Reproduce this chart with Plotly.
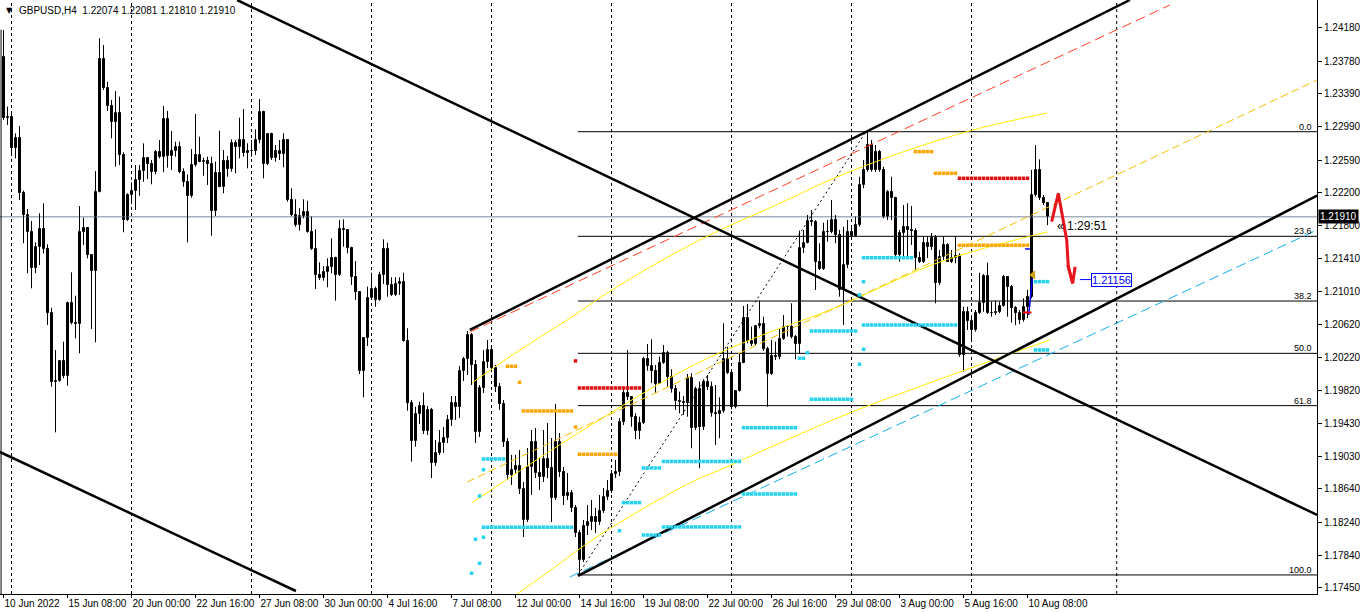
import plotly.graph_objects as go

# ---------------- data ----------------
symbol_title = "GBPUSD,H4  1.22074 1.22081 1.21810 1.21910"
first_open = 1.23835
last_open = 1.22074
current_price = 1.21910

close = [
 1.23094,1.23114,1.22741,1.22853,1.22192,1.21932,1.21724,1.21292,1.21544,1.21764,
 1.21523,1.20751,1.19929,1.19937,1.20178,1.20001,1.20871,1.20630,1.20625,1.21732,
 1.21772,1.21451,1.21263,1.22204,1.23803,1.23462,1.23246,1.23054,1.23154,1.22653,
 1.21872,1.22172,1.22224,1.22352,1.22461,1.22613,1.22541,1.22445,1.22686,1.22633,
 1.23082,1.22645,1.22705,1.22753,1.22453,1.22325,1.22164,1.22533,1.22653,1.22573,
 1.22585,1.22545,1.21984,1.22433,1.22272,1.22581,1.22485,1.22794,1.22746,1.22833,
 1.22674,1.22701,1.22698,1.22833,1.23166,1.22545,1.22906,1.22613,1.22705,1.22665,
 1.22833,1.22112,1.21932,1.21812,1.21920,1.21965,1.21732,1.21520,1.21211,1.21171,
 1.21251,1.21304,1.21412,1.21211,1.21760,1.21752,1.21532,1.21183,1.21003,1.20061,
 1.20450,1.20931,1.21043,1.20911,1.21211,1.21520,1.21091,1.20971,1.21103,1.21123,
 1.20422,1.19677,1.19220,1.19541,1.19637,1.19340,1.19589,1.18955,1.19076,1.19192,
 1.19249,1.19468,1.19677,1.19621,1.20061,1.20198,1.20490,1.20130,1.19328,1.19849,
 1.20169,1.20310,1.20093,1.19869,1.19661,1.19208,1.18811,1.18868,1.18916,1.18636,
 1.18267,1.18907,1.19208,1.18835,1.18787,1.18996,1.18888,1.18535,1.19208,1.18847,
 1.18559,1.18588,1.18407,1.18107,1.17786,1.18195,1.18246,1.18303,1.18246,1.18378,
 1.18547,1.18619,1.18820,1.18847,1.19448,1.19789,1.19745,1.19501,1.19340,1.19436,
 1.20198,1.20118,1.20061,1.19901,1.20150,1.20277,1.19989,1.19837,1.19697,1.19689,
 1.19677,1.19970,1.19369,1.19837,1.19388,1.19929,1.19862,1.19549,1.19545,1.19580,
 1.20198,1.20030,1.19621,1.19821,1.20157,1.20691,1.20422,1.20382,1.20598,1.20622,
 1.20318,1.20021,1.20238,1.20229,1.20438,1.20590,1.20583,1.20462,1.20382,1.21532,
 1.21599,1.21864,1.21852,1.21371,1.21280,1.21732,1.21728,1.21872,1.21692,1.21031,
 1.21331,1.21728,1.21680,1.21812,1.22293,1.22473,1.22773,1.22473,1.22693,1.22473,
 1.21905,1.22212,1.22133,1.21451,1.21720,1.21792,1.21752,1.21740,1.21412,1.21371,
 1.21592,1.21544,1.21652,1.21119,1.21431,1.21571,1.21371,1.21412,1.21439,1.20250,
 1.20770,1.20662,1.20550,1.20758,1.20878,1.21199,1.20758,1.20751,1.20770,1.20839,
 1.21183,1.21063,1.20811,1.20758,1.20670,1.20830,1.20950,1.22172,1.22473,1.22133,
 1.22073,1.21910]

high = [
 1.24155,1.23234,1.23170,1.22913,1.23002,1.22224,1.22004,1.21860,1.21604,1.21952,
 1.22072,1.21580,1.20818,1.20310,1.20190,1.20410,1.20891,1.21243,1.20962,1.22040,
 1.21900,1.21780,1.21463,1.22460,1.24056,1.23975,1.23534,1.23314,1.23422,1.23354,
 1.22686,1.22193,1.22325,1.22533,1.22533,1.22793,1.22621,1.22593,1.22713,1.22833,
 1.23242,1.23182,1.22942,1.22813,1.22813,1.22493,1.22421,1.22725,1.23146,1.22873,
 1.22621,1.22633,1.22633,1.22573,1.22945,1.22713,1.22641,1.22842,1.22833,1.23101,
 1.23206,1.22794,1.22833,1.22962,1.23326,1.23186,1.22914,1.22921,1.22773,1.22833,
 1.22914,1.22842,1.22253,1.22121,1.22013,1.22121,1.22104,1.21912,1.21760,1.21363,
 1.21319,1.21412,1.21652,1.21431,1.21872,1.21880,1.21760,1.21551,1.21379,1.21010,
 1.20457,1.21071,1.21239,1.21071,1.21251,1.21640,1.21599,1.21183,1.21183,1.21183,
 1.21239,1.20571,1.19709,1.19628,1.19689,1.19797,1.19637,1.19613,1.19228,1.19348,
 1.19384,1.19529,1.19757,1.19757,1.20118,1.20226,1.20538,1.20514,1.20190,1.19889,
 1.20310,1.20430,1.20370,1.20130,1.19913,1.19709,1.19252,1.19048,1.19048,1.19108,
 1.18723,1.19132,1.19348,1.19372,1.19012,1.19348,1.19432,1.19252,1.19661,1.19312,
 1.18904,1.18832,1.18627,1.18447,1.18146,1.18267,1.18447,1.18507,1.18411,1.18567,
 1.18651,1.18747,1.18868,1.18988,1.19492,1.19853,1.20310,1.19749,1.19549,1.19508,
 1.20229,1.20382,1.20438,1.20130,1.20229,1.20370,1.20301,1.20078,1.19889,1.19809,
 1.19757,1.20021,1.20030,1.19869,1.19929,1.19958,1.20009,1.19929,1.19889,1.19741,
 1.20631,1.20349,1.20030,1.19829,1.20270,1.20839,1.20863,1.20590,1.20610,1.20902,
 1.20710,1.20349,1.20430,1.20410,1.20571,1.20730,1.20610,1.20871,1.20490,1.21744,
 1.21752,1.21932,1.21992,1.21872,1.21592,1.21840,1.21872,1.22112,1.21932,1.21752,
 1.21792,1.21872,1.21776,1.21912,1.22392,1.22593,1.22933,1.22833,1.22773,1.22713,
 1.22513,1.22232,1.22392,1.22152,1.21752,1.22052,1.22073,1.22040,1.21772,1.21491,
 1.21672,1.21672,1.21716,1.21692,1.21511,1.21672,1.21592,1.21511,1.21672,1.21472,
 1.20830,1.20830,1.20710,1.20790,1.21239,1.21223,1.21359,1.20891,1.20902,1.20891,
 1.21211,1.21191,1.21091,1.20839,1.20790,1.20931,1.21031,1.22473,1.22773,1.22601,
 1.22172,1.22081]

low = [
 1.23074,1.23014,1.22653,1.22613,1.22112,1.21592,1.21232,1.21051,1.21232,1.21331,
 1.21471,1.20610,1.19869,1.19320,1.19929,1.19970,1.19881,1.20618,1.20450,1.20270,
 1.21571,1.21411,1.20562,1.20402,1.22204,1.23434,1.23182,1.22854,1.22513,1.22533,
 1.21724,1.21860,1.22073,1.21992,1.22164,1.22332,1.22364,1.22301,1.22421,1.22613,
 1.22445,1.22501,1.22473,1.22633,1.22433,1.22272,1.21604,1.22140,1.22513,1.22566,
 1.22404,1.22293,1.21683,1.21920,1.22265,1.22193,1.22392,1.22453,1.22433,1.22613,
 1.22633,1.22493,1.22633,1.22653,1.22794,1.22373,1.22533,1.22593,1.22573,1.22593,
 1.22505,1.22092,1.21920,1.21792,1.21744,1.21892,1.21720,1.21511,1.21043,1.21151,
 1.21143,1.21063,1.21232,1.20902,1.21199,1.21551,1.21471,1.21091,1.20911,1.20021,
 1.19741,1.20358,1.20931,1.20830,1.20902,1.21103,1.20950,1.20959,1.20959,1.20971,
 1.20410,1.19580,1.18967,1.19148,1.19420,1.19300,1.19288,1.18771,1.18916,1.19048,
 1.19072,1.19192,1.19396,1.19468,1.19492,1.19937,1.20009,1.19889,1.19192,1.19264,
 1.19793,1.20093,1.20045,1.19805,1.19589,1.19144,1.18747,1.18687,1.18820,1.18579,
 1.18062,1.18243,1.18567,1.18771,1.18627,1.18723,1.18771,1.18243,1.18507,1.18783,
 1.18447,1.18507,1.18363,1.18062,1.17606,1.17762,1.18086,1.18146,1.18110,1.18207,
 1.18351,1.18507,1.18591,1.18771,1.18795,1.19408,1.19709,1.19388,1.19237,1.19237,
 1.19420,1.20061,1.19910,1.19793,1.19901,1.20142,1.19869,1.19797,1.19589,1.19549,
 1.19529,1.19508,1.19128,1.19348,1.18888,1.19348,1.19829,1.19508,1.19168,1.19249,
 1.19556,1.20021,1.19597,1.19609,1.19809,1.20150,1.20390,1.20358,1.20370,1.20570,
 1.20301,1.19628,1.20009,1.20190,1.20198,1.20430,1.20470,1.20450,1.20198,1.20262,
 1.21475,1.21592,1.21800,1.21031,1.21271,1.21271,1.21611,1.21712,1.21592,1.20950,
 1.20610,1.21295,1.21632,1.21672,1.21792,1.22256,1.22453,1.22453,1.22449,1.22453,
 1.21892,1.21872,1.21872,1.21431,1.21371,1.21415,1.21431,1.21571,1.21271,1.21355,
 1.21355,1.21415,1.21511,1.20871,1.21091,1.21391,1.21367,1.21355,1.21352,1.20229,
 1.20049,1.20550,1.20430,1.20530,1.20742,1.20770,1.20742,1.20710,1.20730,1.20751,
 1.20830,1.20710,1.20638,1.20610,1.20622,1.20650,1.20694,1.20931,1.22152,1.22112,
 1.22052,1.21810]

date_labels = ["10 Jun 2022", "15 Jun 08:00", "20 Jun 00:00", "22 Jun 16:00", "27 Jun 08:00",
               "30 Jun 00:00", "4 Jul 16:00", "7 Jul 08:00", "12 Jul 00:00", "14 Jul 16:00",
               "19 Jul 08:00", "22 Jul 00:00", "26 Jul 16:00", "29 Jul 08:00", "3 Aug 00:00",
               "5 Aug 16:00", "10 Aug 08:00"]
date_label_bars = [0, 16, 32, 48, 64, 80, 96, 112, 128, 144, 160, 176, 192, 208, 224, 240, 256]

price_ticks = [1.24180, 1.23780, 1.23390, 1.22990, 1.22590, 1.22200, 1.21800, 1.21410, 1.21010,
               1.20620, 1.20220, 1.19820, 1.19430, 1.19030, 1.18640, 1.18240, 1.17840, 1.17450]

week_grid_bars = [2, 32, 62, 92, 122, 152, 182, 212, 242, 278.3]

# drawn objects (bar index, price)
upper_channel = [(116.6, 1.20550), (281.6, 1.24516)]
lower_channel = [(143.6, 1.17594), (328.4, 1.22166)]
red_dashed = [(116.6, 1.20526), (291.6, 1.24456)]
cyan_dashed = [(141.6, 1.17582), (328.4, 1.21752)]
down_line_main = [(58.4, 1.24516), (328.4, 1.18327)]
down_line_left = [(-0.9, 1.19084), (73.1, 1.17413)]

fib_high = 1.22933
fib_low = 1.17606
fib_start_bar = 143.6
fib_high_bar = 215.6
fib_levels = [0.0, 23.6, 38.2, 50.0, 61.8, 100.0]

yellow_upper_x = [117.1, 129.1, 140.9, 154.1, 174.1, 195.9, 206.6, 224.1, 242.4, 260.9]
yellow_upper_y = [1.19913, 1.20310, 1.20670, 1.21091, 1.21632, 1.22112, 1.22353, 1.22677, 1.22954, 1.23158]
yellow_mid_x = [117.1, 144.1, 171.6, 189.1, 206.6, 234.1, 260.9]
yellow_mid_y = [1.18471, 1.19324, 1.20105, 1.20478, 1.20790, 1.21367, 1.21728]
yellow_low_x = [117.1, 133.4, 149.1, 171.6, 179.1, 209.1, 234.9, 261.6]
yellow_low_y = [1.17005, 1.17546, 1.18087, 1.18712, 1.18868, 1.19505, 1.19973, 1.20430]
gold_dashed = [(115.9, 1.18723), (328.4, 1.23555)]

cyan_levels = [(120, 125, 1.19000), (120, 142, 1.18179), (155, 159, 1.18475), (160, 164, 1.18892),
               (160, 164, 1.18086), (165, 184, 1.18183), (165, 184, 1.18970), (185, 198, 1.18579),
               (185, 198, 1.19376), (199, 200, 1.20210), (202, 212, 1.19717), (202, 213, 1.20538),
               (215, 227, 1.21419), (215, 238, 1.20610), (258, 261, 1.20310), (258, 261, 1.21131)]
cyan_single_bars = [117, 118, 119, 119, 120, 120, 154, 201, 214, 215, 215, 214]
cyan_single_prices = [1.17626, 1.18035, 1.18555, 1.17746, 1.18871, 1.18059, 1.18138, 1.20277,
                      1.20971, 1.21131, 1.20318, 1.20138]
red_levels = [(144, 159, 1.19853), (239, 256, 1.22373)]
red_single_bars = [143]
red_single_prices = [1.20178]
orange_levels = [(126, 128, 1.20114), (130, 142, 1.19577), (144, 153, 1.19056),
                 (228, 232, 1.22694), (233, 238, 1.22433), (239, 256, 1.21568)]
orange_single_bars = [129, 143]
orange_single_prices = [1.19921, 1.19384]

red_arrow_x = [262.05, 263.7, 265.8, 266.2, 267.3]
red_arrow_y = [1.21852, 1.22193, 1.21632, 1.21311, 1.21111]
red_arrow_head_x = [266.1, 267.3, 267.9]
red_arrow_head_y = [1.21331, 1.21111, 1.21311]

target_price = 1.21156
target_bar = 271.8
countdown_text = "\u00ab 1:29:51"

X_RANGE = [-0.875, 328.375]
Y_RANGE = [1.17377, 1.24516]

# ---------------- build ----------------
n = min(len(close), len(high), len(low))
opens = [first_open] + close[:n - 1]
opens[n - 1] = last_open
hi = [max(high[i], opens[i], close[i]) for i in range(n)]
lo = [min(low[i], opens[i], close[i]) for i in range(n)]
idx = list(range(n))

fig = go.Figure()

# weekly dashed grid
for gb in week_grid_bars:
    fig.add_shape(type="line", xref="x", yref="paper", x0=gb, x1=gb, y0=0, y1=1,
                  line=dict(color="black", width=1, dash="3px,3px"), layer="below")

# current price line
fig.add_trace(go.Scatter(x=X_RANGE, y=[current_price, current_price], mode="lines",
                         line=dict(color="#778899", width=1), hoverinfo="skip"))

# fibonacci lines
rng = fib_high - fib_low
for lv in fib_levels:
    p = fib_high - rng * lv / 100.0
    fig.add_trace(go.Scatter(x=[fib_start_bar, X_RANGE[1]], y=[p, p], mode="lines",
                             line=dict(color="black", width=1), hoverinfo="skip"))
    fig.add_annotation(x=X_RANGE[1] - 0.8, y=p, xref="x", yref="y", text=f"{lv:.1f}",
                       showarrow=False, xanchor="right", yanchor="bottom", yshift=-2,
                       font=dict(family="Liberation Sans", size=9, color="black"))
fig.add_trace(go.Scatter(x=[fib_start_bar, fib_high_bar], y=[fib_low, fib_high], mode="lines",
                         line=dict(color="black", width=1, dash="2px,3px"), hoverinfo="skip"))

# candles: wicks
wx, wy = [], []
for i in idx:
    wx += [i, i, None]
    wy += [lo[i], hi[i], None]
fig.add_trace(go.Scatter(x=wx, y=wy, mode="lines", line=dict(color="black", width=1),
                         hoverinfo="skip"))
# candles: bodies
base = [min(opens[i], close[i]) for i in idx]
hgt = [max(abs(close[i] - opens[i]), 0.00002) for i in idx]
fills = ["white" if close[i] > opens[i] else "black" for i in idx]
fig.add_trace(go.Bar(x=idx, y=hgt, base=base, width=0.5,
                     marker=dict(color=fills, line=dict(color="black", width=1)),
                     hoverinfo="skip"))

def seg(pts, color, width, dash=None):
    fig.add_trace(go.Scatter(x=[p[0] for p in pts], y=[p[1] for p in pts], mode="lines",
                             line=dict(color=color, width=width, dash=dash), hoverinfo="skip"))

# yellow regression curves
fig.add_trace(go.Scatter(x=yellow_upper_x, y=yellow_upper_y, mode="lines",
                         line=dict(color="#FFF000", width=1, shape="spline"), hoverinfo="skip"))
fig.add_trace(go.Scatter(x=yellow_mid_x, y=yellow_mid_y, mode="lines",
                         line=dict(color="#FFF000", width=1, shape="spline"), hoverinfo="skip"))
fig.add_trace(go.Scatter(x=yellow_low_x, y=yellow_low_y, mode="lines",
                         line=dict(color="#FFF000", width=1, shape="spline"), hoverinfo="skip"))
seg(gold_dashed, "#F5C000", 1, "8px,4px")

# channel lines
seg(red_dashed, "#FF4020", 1, "10px,5px")
seg(cyan_dashed, "#10B0F0", 1, "10px,5px")
seg(upper_channel, "black", 2.5)
seg(lower_channel, "black", 2.5)
seg(down_line_main, "black", 2.5)
seg(down_line_left, "black", 2.5)

# dotted levels
def dots(levels, sb, sp, color):
    xs, ys = [], []
    for a, b, p in levels:
        for k in range(a, b + 1):
            xs.append(k)
            ys.append(p)
    xs += sb
    ys += sp
    fig.add_trace(go.Scatter(x=xs, y=ys, mode="markers",
                             marker=dict(symbol="square", size=3.5, color=color, line=dict(width=0)),
                             hoverinfo="skip"))

dots(cyan_levels, cyan_single_bars, cyan_single_prices, "#22D3F2")
dots(orange_levels, orange_single_bars, orange_single_prices, "#FFA500")
dots(red_levels, red_single_bars, red_single_prices, "#E01010")

# small markers around the last bars
fig.add_trace(go.Scatter(x=[256.3, 257.2], y=[1.20730, 1.21171], mode="lines",
                         line=dict(color="#0000FF", width=1.5), hoverinfo="skip"))
fig.add_trace(go.Scatter(x=[255.4, 256.6], y=[1.21524, 1.21524], mode="lines",
                         line=dict(color="#0000FF", width=1.5), hoverinfo="skip"))
fig.add_trace(go.Scatter(x=[255.9], y=[1.20760], mode="markers",
                         marker=dict(symbol="line-ew", size=6, line=dict(color="red", width=2)),
                         hoverinfo="skip"))
fig.add_trace(go.Scatter(x=[257.4], y=[1.21211], mode="markers",
                         marker=dict(symbol="triangle-left", size=8, color="#D4A017"),
                         hoverinfo="skip"))

# red arrow
fig.add_trace(go.Scatter(x=red_arrow_x, y=red_arrow_y, mode="lines",
                         line=dict(color="#E8141B", width=3), hoverinfo="skip"))
fig.add_trace(go.Scatter(x=red_arrow_head_x, y=red_arrow_head_y, mode="lines",
                         line=dict(color="#E8141B", width=3), hoverinfo="skip"))

# target price label
fig.add_trace(go.Scatter(x=[target_bar - 2.7, target_bar], y=[target_price, target_price], mode="lines",
                         line=dict(color="#0000FF", width=1), hoverinfo="skip"))
fig.add_annotation(x=target_bar, y=target_price, xref="x", yref="y", text="1.21156",
                   showarrow=False, xanchor="left", yanchor="middle",
                   font=dict(family="Liberation Sans", size=11, color="#0000FF"),
                   bgcolor="white", bordercolor="#0000FF", borderwidth=1, borderpad=0)
fig.add_annotation(x=262.9, y=1.21800, xref="x", yref="y", text=countdown_text,
                   showarrow=False, xanchor="left", yanchor="middle",
                   font=dict(family="Liberation Sans", size=12, color="black"))

# current price tag on axis
fig.add_annotation(x=1, y=current_price, xref="paper", yref="y", text=f"{current_price:.5f}",
                   showarrow=False, xanchor="left", yanchor="middle", xshift=1,
                   font=dict(family="Liberation Sans", size=10, color="white"),
                   bgcolor="black", borderpad=1)

# title
fig.add_annotation(x=0, y=1, xref="paper", yref="paper", text=symbol_title, showarrow=False,
                   xanchor="left", yanchor="top", xshift=17, yshift=-3,
                   font=dict(family="Liberation Sans", size=10, color="black"))
fig.add_annotation(x=0, y=1, xref="paper", yref="paper", text="\u25bc", showarrow=False,
                   xanchor="left", yanchor="top", xshift=4, yshift=-4,
                   font=dict(family="DejaVu Sans", size=8, color="black"))

# left edge line
fig.add_shape(type="line", xref="paper", yref="paper", x0=0.0008, x1=0.0008, y0=0, y1=0.95,
              line=dict(color="black", width=1))

fig.update_layout(
    width=1362, height=612, margin=dict(l=0, r=45, t=0, b=18, autoexpand=False),
    paper_bgcolor="white", plot_bgcolor="white", showlegend=False, bargap=0,
    xaxis=dict(range=X_RANGE, showgrid=False, zeroline=False, showline=True, linecolor="black",
               linewidth=1, tickmode="array", tickvals=date_label_bars, ticktext=date_labels,
               ticks="outside", ticklen=3, tickcolor="black", ticklabelposition="outside right",
               tickangle=0, automargin=False,
               tickfont=dict(family="Liberation Sans", size=10, color="black"), fixedrange=True),
    yaxis=dict(range=Y_RANGE, side="right", showgrid=False, zeroline=False, showline=True,
               linecolor="black", linewidth=1, tickmode="array", tickvals=price_ticks,
               ticktext=[f"{v:.5f}" for v in price_ticks], ticks="outside", ticklen=4,
               tickcolor="black", automargin=False,
               tickfont=dict(family="Liberation Sans", size=10, color="black"),
               fixedrange=True),
)

fig.write_html("out.html", config={"displayModeBar": False},
               post_script="document.body.style.margin='0';document.body.style.overflow='hidden';")
